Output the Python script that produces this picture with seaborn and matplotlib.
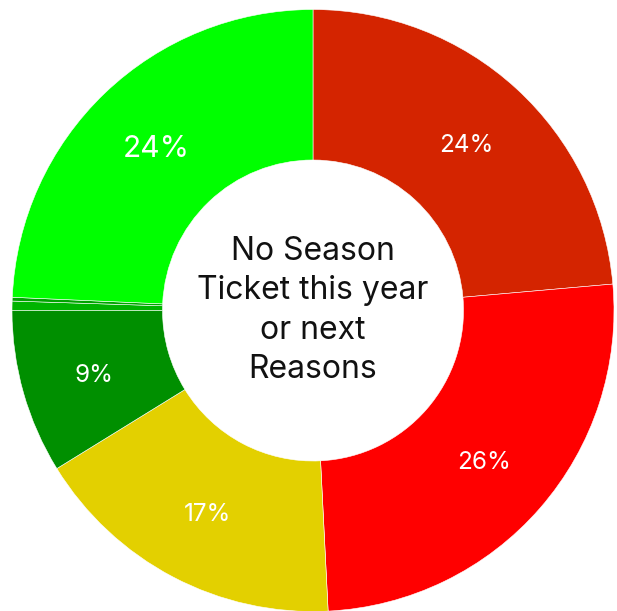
import matplotlib
matplotlib.use("Agg")
import matplotlib.pyplot as plt
import seaborn as sns

sns.set_theme(style="white")
plt.rcParams["font.family"] = ["Inter", "DejaVu Sans"]

# Share of reasons (percent), clockwise from the top
reasons = ["Reason A", "Reason B", "Reason C", "Reason D", "Reason E", "Reason F", "Reason G"]
shares = [23.6, 25.6, 17.0, 8.8, 0.5, 0.2, 24.3]
colors = ["#D42400", "#FF0000", "#E3D000", "#008F00", "#00B400", "#00A300", "#00FF00"]
label_sizes = [17.5, 17.5, 17.5, 17.5, 17.5, 17.5, 21.5]

fig = plt.figure(figsize=(6.17, 6.11), dpi=100)
ax = fig.add_axes([0, 0, 1, 1])


def pct_label(p):
    return f"{p:.0f}%" if p >= 3 else ""


wedges, texts, autotexts = ax.pie(
    shares,
    colors=colors,
    startangle=90,
    counterclock=False,
    radius=1.0,
    autopct=pct_label,
    pctdistance=0.755,
    wedgeprops=dict(width=0.5, edgecolor="white", linewidth=0.4),
    textprops=dict(color="white", fontsize=17.5),
)
for t, size in zip(autotexts, label_sizes):
    t.set_fontsize(size)
    t.set_verticalalignment("center_baseline")

ax.text(0, 0, "No Season\nTicket this year\nor next\nReasons",
        ha="center", va="center", fontsize=23, color="#111111",
        linespacing=1.34)

r_px = 301.0
ax.set_xlim(-313 / r_px, (617 - 313) / r_px)
ax.set_ylim(-(611 - 310.5) / r_px, 310.5 / r_px)
ax.set_aspect("auto")
ax.axis("off")

fig.savefig("out.png", dpi=100, facecolor="white")
